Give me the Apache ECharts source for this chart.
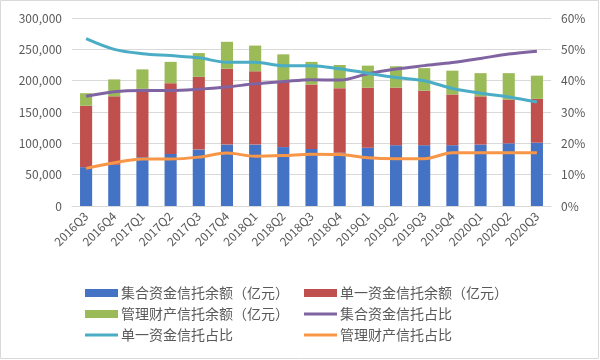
<!DOCTYPE html>
<html><head><meta charset="utf-8">
<script src="https://cdn.jsdelivr.net/npm/echarts@6/dist/echarts.min.js"></script>
<style>html,body{margin:0;padding:0;background:#fff}#c{width:600px;height:360px}</style>
</head><body><div id="c"></div>
<script>
const categories = ['2016Q3','2016Q4','2017Q1','2017Q2','2017Q3','2017Q4','2018Q1','2018Q2','2018Q3','2018Q4','2019Q1','2019Q2','2019Q3','2019Q4','2020Q1','2020Q2','2020Q3'];
const collective = [62000,66000,78000,83000,90000,98000,98000,94000,91000,85000,93000,97000,97000,97000,98000,100000,101000];
const single = [98000,109000,109000,113000,116000,121000,117000,106000,103000,103000,96000,92000,87000,81000,77000,70000,70000];
const managed = [20000,27000,31000,34000,38000,43000,41000,42000,36000,37000,35000,34000,36000,38000,37000,42000,37000];
const collectiveRatio = [35.0,36.5,36.9,36.9,37.3,38.0,39.0,39.7,40.3,40.2,42.2,43.7,44.8,45.8,47.1,48.5,49.4];
const singleRatio = [53.4,50.0,48.6,48.0,47.3,45.9,45.9,44.8,44.8,43.8,42.4,41.0,40.0,37.5,36.0,34.8,33.2];
const managedRatio = [12.0,13.8,15.0,15.0,15.6,16.9,15.9,16.1,16.5,16.4,15.4,15.1,15.1,17.0,17.0,17.0,17.0];

const chart = echarts.init(document.getElementById('c'));
const font = 'Noto Sans CJK SC';
const txt = '#595959';
const lineIcon = 'path://M0,2.5 L33,2.5 L33,5.5 L0,5.5 Z';
const legendBase = {orient:'vertical', itemWidth:33, itemHeight:8, itemGap:7,
  textStyle:{fontSize:14, color:txt, fontFamily:font, padding:[0,0,0,-2]}, icon:'rect'};
function lineSeries(name, data, color){
  return {name, type:'line', yAxisIndex:1, data, smooth:0.35, symbol:'none',
    lineStyle:{width:3, color}, itemStyle:{color}, z:5};
}
chart.setOption({
  animation:false,
  textStyle:{fontFamily:font},
  grid:{left:72, right:49, top:18, bottom:154, containLabel:false},
  graphic:[{type:'rect', shape:{x:0.5,y:0.5,width:598,height:358}, style:{fill:'none', stroke:'#d9d9d9', lineWidth:1}, silent:true}],
  legend:[
    Object.assign({}, legendBase, {left:80, top:281, data:[
      {name:'集合资金信托余额（亿元）'},{name:'管理财产信托余额（亿元）'},{name:'单一资金信托占比', icon:lineIcon}]}),
    Object.assign({}, legendBase, {left:299, top:281, data:[
      {name:'单一资金信托余额（亿元）'},{name:'集合资金信托占比', icon:lineIcon},{name:'管理财产信托占比', icon:lineIcon}]})
  ],
  xAxis:{type:'category', data:categories,
    axisLine:{lineStyle:{color:'#d9d9d9'}}, axisTick:{show:false},
    axisLabel:{rotate:45, color:txt, fontSize:12, margin:8, interval:0}},
  yAxis:[
    {type:'value', min:0, max:300000, interval:50000,
      axisLabel:{color:txt, fontSize:12, margin:10, formatter:v=>v.toLocaleString('en-US')},
      splitLine:{lineStyle:{color:'#d9d9d9'}}, axisLine:{show:false}, axisTick:{show:false}},
    {type:'value', min:0, max:60, interval:10,
      axisLabel:{color:txt, fontSize:12, margin:10, formatter:'{value}%'},
      splitLine:{show:false}, axisLine:{show:false}, axisTick:{show:false}}
  ],
  series:[
    {name:'集合资金信托余额（亿元）', type:'bar', stack:'a', data:collective, barWidth:'43%', itemStyle:{color:'#4472C4'}},
    {name:'单一资金信托余额（亿元）', type:'bar', stack:'a', data:single, itemStyle:{color:'#C0504D'}},
    {name:'管理财产信托余额（亿元）', type:'bar', stack:'a', data:managed, itemStyle:{color:'#9BBB59'}},
    lineSeries('集合资金信托占比', collectiveRatio, '#8064A2'),
    lineSeries('单一资金信托占比', singleRatio, '#4BACC6'),
    lineSeries('管理财产信托占比', managedRatio, '#F79646')
  ]
});
</script></body></html>
